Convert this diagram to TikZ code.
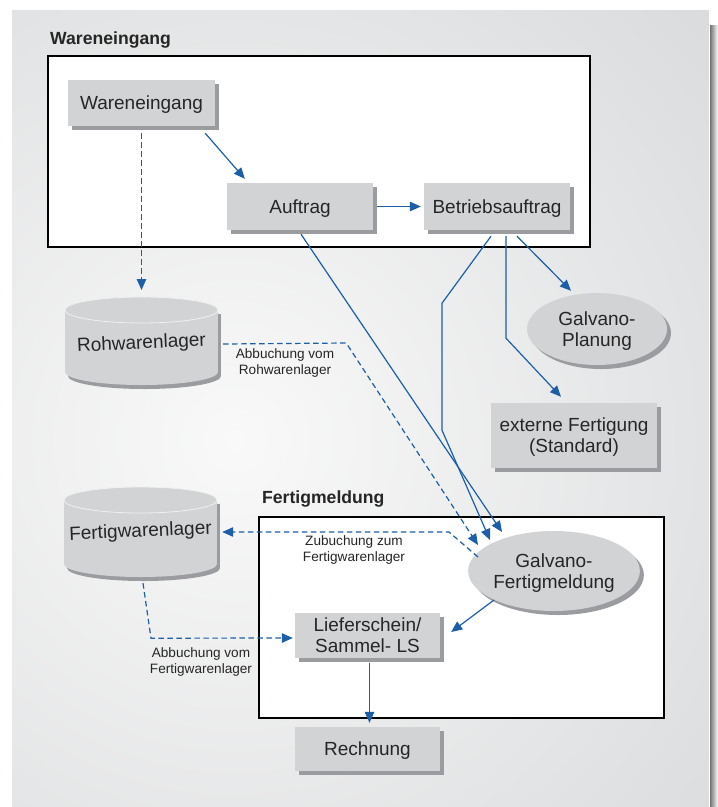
\documentclass[tikz,border=0pt]{standalone}
\usepackage{fontspec}
\setmainfont{Liberation Sans}
\usetikzlibrary{arrows.meta,shapes.geometric,shadows,calc}
\definecolor{nodegrey}{HTML}{D2D3D5}
\definecolor{shadowgrey}{HTML}{9A9CA0}
\definecolor{flowblue}{HTML}{1C5EA8}
\definecolor{panelout}{HTML}{CDCFD1}
\definecolor{panelin}{HTML}{F9F9F9}
\definecolor{txt}{HTML}{262626}
\begin{document}
\begin{tikzpicture}[x=1pt,y=-1pt,
  box/.style={rectangle, fill=nodegrey, inner sep=0pt, text=txt, text depth=0pt,
    font=\fontsize{19}{21}\selectfont, align=center,
    drop shadow={shadow xshift=4pt, shadow yshift=-4pt, fill=shadowgrey, opacity=1}},
  oval/.style={ellipse, fill=nodegrey, inner sep=0pt, text=txt, text depth=0pt,
    font=\fontsize{19}{21.5}\selectfont, align=center,
    drop shadow={shadow xshift=4pt, shadow yshift=-4pt, fill=shadowgrey, opacity=1}},
  cyltext/.style={inner sep=0pt, text=txt, font=\fontsize{19}{21}\selectfont},
  frame/.style={draw=black, line width=2.2pt, fill=white},
  title/.style={anchor=west, font=\fontsize{17.6}{20}\selectfont\bfseries, text=txt, inner sep=0pt},
  lbl/.style={font=\fontsize{13.6}{16.5}\selectfont, align=center, text=txt, inner sep=0pt},
  flow/.style={draw=flowblue, line width=1.2pt, -{Triangle[length=11pt,width=9.5pt]}},
  dflow/.style={flow, dash pattern=on 5.5pt off 3.5pt},
]
\useasboundingbox (0,0) rectangle (718,807);
% background panel
\fill[white] (0,0) rectangle (718,807);
\begin{scope}
  \clip (12,10) rectangle (710,807);
  \shade[inner color=panelin, outer color=panelout] (235,440) circle (900pt);
\end{scope}
\shade[left color=black!55, right color=white] (710,25) rectangle (718,807);
\draw[white, line width=1pt] (709.5,10) -- (709.5,807);

% frames and titles
\draw[frame] (48,56) rectangle (590,247);
\draw[frame] (259,517) rectangle (664,718);
\node[title] (t1) at (50,40) {Wareneingang};
\node[title] (t2) at (262,499) {Fertigmeldung};

% cylinders
\fill[shadowgrey] (68,314) rectangle (221,376);
\fill[shadowgrey] (144.5,376) ellipse [x radius=76.5pt, y radius=13pt];
\fill[nodegrey] (65,310) rectangle (218,372);
\fill[nodegrey] (141.5,372) ellipse [x radius=76.5pt, y radius=13pt];
\filldraw[fill=nodegrey, draw=white!65!nodegrey, line width=0.8pt] (141.5,310) ellipse [x radius=76.5pt, y radius=13pt];
\coordinate (rohtop) at (141.5,297);
\node[cyltext, minimum width=153pt, minimum height=80pt] (roh) at (141.5,344) {\rotatebox{2.5}{Rohwarenlager}};

\fill[shadowgrey] (67,504) rectangle (220,568);
\fill[shadowgrey] (143.5,568) ellipse [x radius=76.5pt, y radius=13pt];
\fill[nodegrey] (64,500) rectangle (217,564);
\fill[nodegrey] (140.5,564) ellipse [x radius=76.5pt, y radius=13pt];
\filldraw[fill=nodegrey, draw=white!65!nodegrey, line width=0.8pt] (140.5,500) ellipse [x radius=76.5pt, y radius=13pt];
\node[cyltext, minimum width=153pt, minimum height=90pt] (fw) at (140.5,532) {\rotatebox{2.5}{Fertigwarenlager}};

% boxes
\node[box, minimum width=147pt, minimum height=46pt] (we) at (141.5,103) {Wareneingang};
\node[box, minimum width=146pt, minimum height=47pt] (auf) at (300,206.5) {Auftrag};
\node[box, minimum width=146pt, minimum height=47pt] (ba) at (497,206.5) {Betriebsauftrag};
\node[oval, minimum width=140pt, minimum height=72pt] (gp) at (597,329) {Galvano-\\Planung};
\node[box, minimum width=166pt, minimum height=65pt] (ext) at (574,435.5) {externe Fertigung\\(Standard)};
\node[oval, minimum width=152pt, minimum height=80pt] (gf) at (554,571) {Galvano-\\Fertigmeldung};
\node[box, minimum width=145pt, minimum height=45pt] (lf) at (367.5,635.5) {Lieferschein/\\Sammel- LS};
\node[box, minimum width=145pt, minimum height=44pt] (rech) at (367.5,749) {Rechnung};

% labels
\node[lbl] (l1) at (285,363) {Abbuchung vom\\Rohwarenlager};
\node[lbl] (l2) at (354,550) {Zubuchung zum\\Fertigwarenlager};
\node[lbl] (l3) at (201,662) {Abbuchung vom\\Fertigwarenlager};

% connectors
\draw[flow] ($(we.south east)+(-10,7)$) -- ($(auf.north west)+(18,-4)$);
\draw[flow] ($(auf.east)+(4,0)$) -- ($(ba.west)+(-3,0)$);
\draw[dflow] ($(we.south)+(0,7)$) -- ($(rohtop)+(0,-7)$);
\draw[flow] ($(auf.south)+(1,4)$) -- ($(gf.center)+(-52,-39)$);
\draw[flow] ($(ba.south)+(-6,6)$) -- ++(-49,67) -- ++(0,127) -- ($(gf.center)+(-64,-31)$);
\draw[flow] ($(ba.south)+(9,6)$) -- ++(0,102) -- ($(ext.north)+(-13,-6)$);
\draw[flow] ($(ba.south)+(20,6)$) -- ($(gp.north)+(-26,-2)$);
\draw[dflow] ($(roh.east)+(5,0)$) -- ++(123,-1) -- ($(gf.center)+(-76,-26)$);
\draw[dflow] ($(gf.center)+(-76,-14)$) -- ++(-29,-25) -- ($(fw.east)+(5,0)$);
\draw[dflow] ($(fw.south)+(2.5,6)$) -- ++(8,55) -- ($(lf.west)+(-2,2.5)$);
\draw[flow] ($(gf.center)+(-60,29)$) -- ($(lf.east)+(11,-3.5)$);
\draw[flow] ($(lf.south)+(2,5)$) -- ($(rech.north)+(2,-4)$);
\end{tikzpicture}
\end{document}
